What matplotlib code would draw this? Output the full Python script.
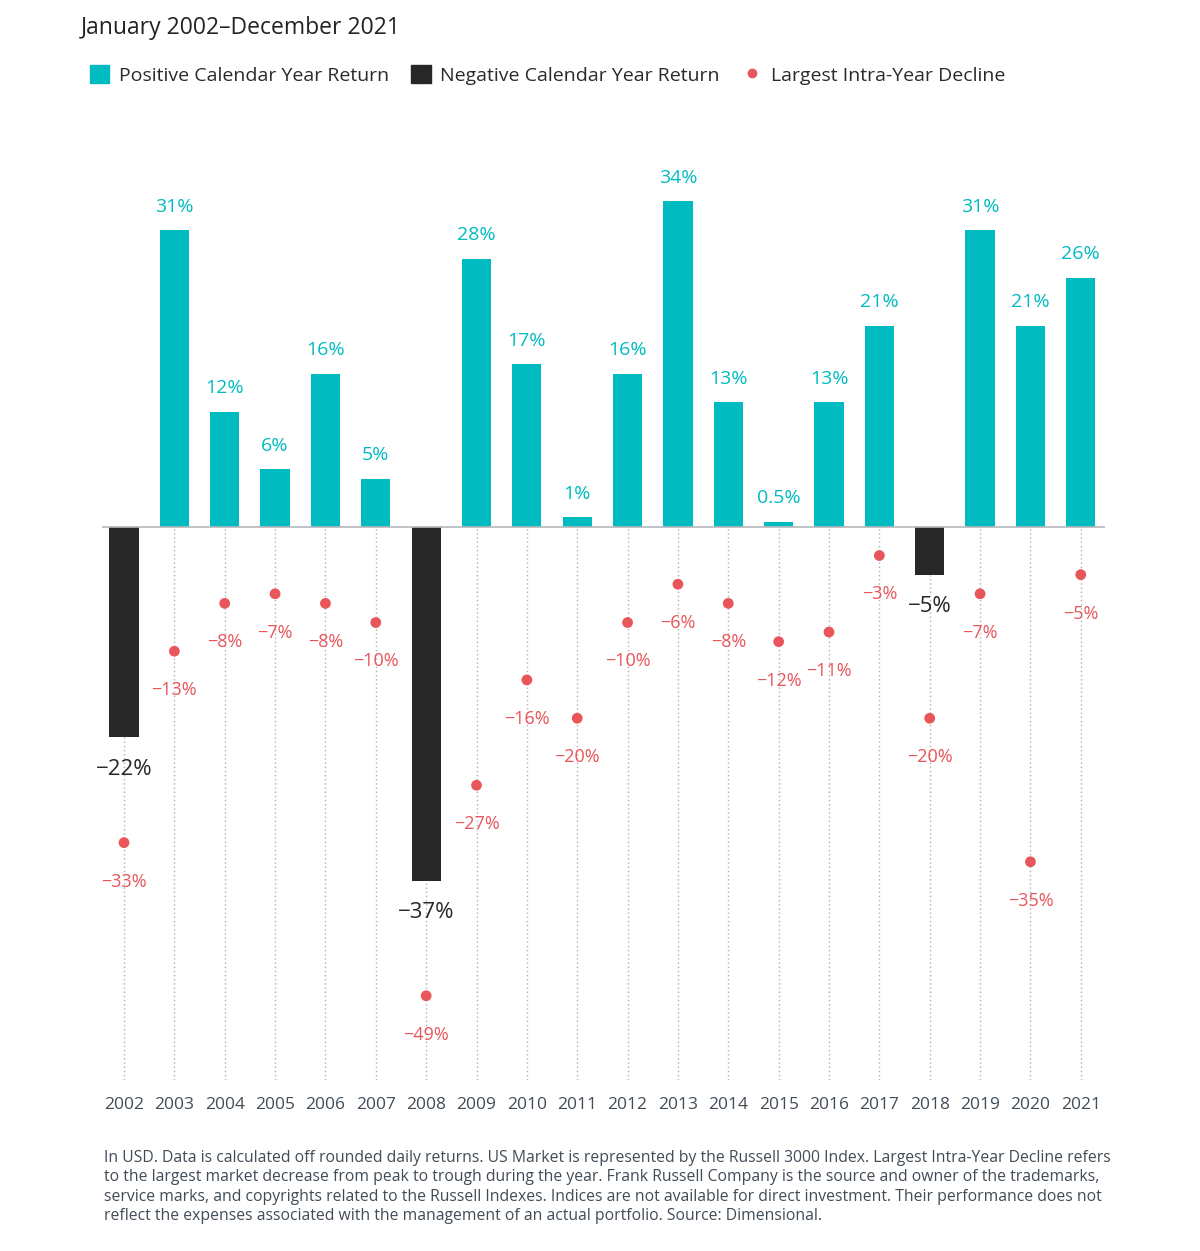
import matplotlib
matplotlib.use("Agg")
import matplotlib.pyplot as plt
from matplotlib.patches import Patch
from matplotlib.lines import Line2D
import numpy as np

plt.rcParams['font.family'] = ['Open Sans', 'DejaVu Sans']

years = [str(y) for y in range(2002, 2022)]
returns = [-22, 31, 12, 6, 16, 5, -37, 28, 17, 1, 16, 34, 13, 0.5, 13, 21, -5, 31, 21, 26]
return_labels = ['−22%', '31%', '12%', '6%', '16%', '5%', '−37%', '28%', '17%', '1%',
                 '16%', '34%', '13%', '0.5%', '13%', '21%', '−5%', '31%', '21%', '26%']
declines = [-33, -13, -8, -7, -8, -10, -49, -27, -16, -20, -10, -6, -8, -12, -11, -3, -20, -7, -35, -5]
decline_labels = ['−33%', '−13%', '−8%', '−7%', '−8%', '−10%', '−49%', '−27%', '−16%', '−20%',
                  '−10%', '−6%', '−8%', '−12%', '−11%', '−3%', '−20%', '−7%', '−35%', '−5%']

teal = '#00BBC0'
dark = '#272727'
red = '#E8555A'
grey_txt = '#414C57'

fig = plt.figure(figsize=(12, 12.51), dpi=100)
ax = fig.add_axes([0.085, 0.1367, 0.8358, 0.7482])

x = np.arange(len(years))
ymin, ymax = -57.8, 40

# dotted guide lines
for xi, r in zip(x, returns):
    ax.vlines(xi, ymin, min(r, 0), colors='#b0b0b0', linestyles=(0, (1, 2)), linewidth=1, zorder=1)

colors = [teal if r > 0 else dark for r in returns]
ax.bar(x, returns, width=0.58, color=colors, zorder=2)
ax.axhline(0, color='#b5b8bb', linewidth=1.2, zorder=3)

ax.scatter(x, declines, s=60, color=red, zorder=4, edgecolors='none')

for xi, r, lab in zip(x, returns, return_labels):
    if r > 0:
        ax.annotate(lab, (xi, r), xytext=(0, 17), textcoords='offset points',
                    ha='center', va='center', fontsize=14, color=teal)
    else:
        ax.annotate(lab, (xi, r), xytext=(0, -23), textcoords='offset points',
                    ha='center', va='center', fontsize=16, color=dark)

for xi, d, lab in zip(x, declines, decline_labels):
    ax.annotate(lab, (xi, d), xytext=(0, -28), textcoords='offset points',
                ha='center', va='center', fontsize=13, color=red)

ax.set_xlim(-0.437, 19.48)
ax.set_ylim(ymin, ymax)
ax.set_xticks(x)
ax.set_xticklabels(years, fontsize=12.5, color=grey_txt)
ax.tick_params(axis='x', length=0, pad=12)
ax.set_yticks([])
for s in ax.spines.values():
    s.set_visible(False)

fig.text(0.067, 0.978, 'January 2002–December 2021', fontsize=16.5, color='#222222',
         ha='left', va='center')

handles = [Patch(color=teal), Patch(color=dark),
           Line2D([], [], marker='o', linestyle='none', color=red, markersize=6)]
fig.legend(handles, ['Positive Calendar Year Return', 'Negative Calendar Year Return',
                     'Largest Intra-Year Decline'],
           loc='center left', bbox_to_anchor=(0.06, 0.94), ncol=3, frameon=False,
           fontsize=14, handlelength=1.0, handleheight=1.0, handletextpad=0.5,
           columnspacing=1.15, labelcolor='#2a2a2a')

note = ("In USD. Data is calculated off rounded daily returns. US Market is represented by the Russell 3000 Index. Largest Intra-Year Decline refers\n"
        "to the largest market decrease from peak to trough during the year. Frank Russell Company is the source and owner of the trademarks,\n"
        "service marks, and copyrights related to the Russell Indexes. Indices are not available for direct investment. Their performance does not\n"
        "reflect the expenses associated with the management of an actual portfolio. Source: Dimensional.")
fig.text(0.087, 0.0512, note, fontsize=11.3, color=grey_txt, ha='left', va='center', linespacing=1.3)

fig.savefig('out.png', dpi=100)
